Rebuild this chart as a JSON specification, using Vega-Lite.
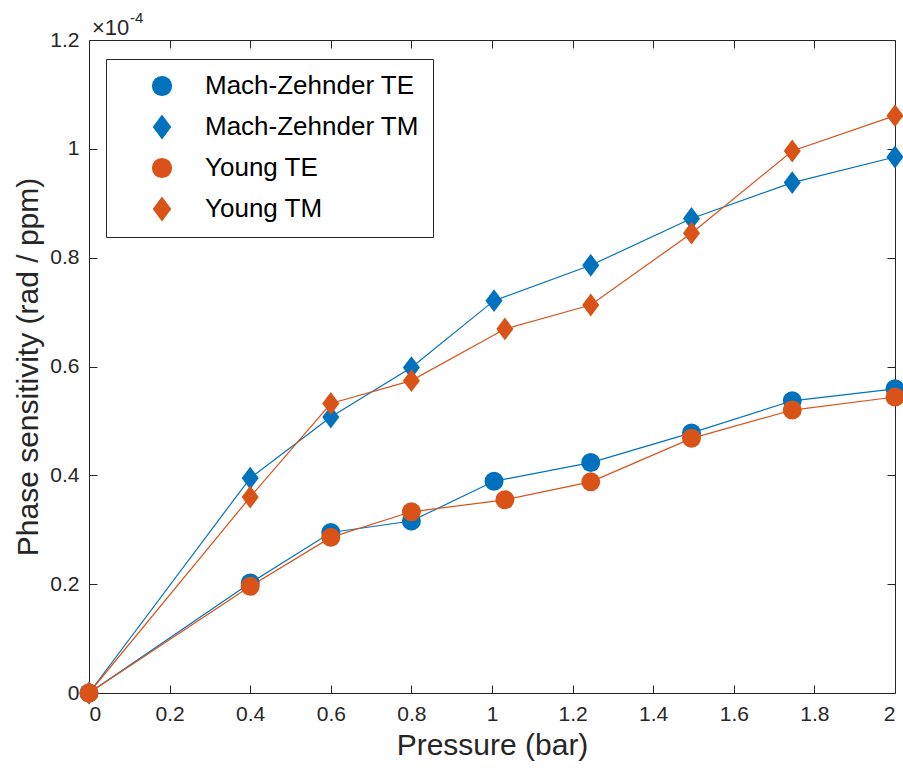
{
  "$schema": "https://vega.github.io/schema/vega-lite/v6.json",
  "width": 806,
  "height": 653,
  "autosize": "none",
  "padding": {"left": 89, "top": 40, "right": 8, "bottom": 77},
  "background": "white",
  "config": {
    "font": "Liberation Sans",
    "view": {"stroke": null},
    "axis": {
      "grid": false,
      "domainColor": "#262626",
      "domainWidth": 1,
      "tickColor": "#262626",
      "tickWidth": 1,
      "tickSize": -8,
      "labelColor": "#262626",
      "labelFont": "Liberation Sans",
      "labelFontSize": 21,
      "titleColor": "#262626",
      "titleFont": "Liberation Sans",
      "titleFontSize": 30,
      "titleFontWeight": "normal"
    },
    "legend": {
      "orient": "none",
      "legendX": 17,
      "legendY": 19,
      "title": null,
      "padding": 14,
      "strokeColor": "#262626",
      "fillColor": "white",
      "labelFont": "Liberation Sans",
      "labelFontSize": 26,
      "labelColor": "#000000",
      "labelOffset": 30,
      "labelLimit": 0,
      "symbolSize": 361,
      "symbolOffset": 29,
      "rowPadding": 14
    }
  },
  "data": {
    "values": [
      {"series": "Mach-Zehnder TE", "pressure": 0, "sensitivity": 0},
      {"series": "Mach-Zehnder TE", "pressure": 0.4, "sensitivity": 0.202},
      {"series": "Mach-Zehnder TE", "pressure": 0.6, "sensitivity": 0.295},
      {"series": "Mach-Zehnder TE", "pressure": 0.8, "sensitivity": 0.316},
      {"series": "Mach-Zehnder TE", "pressure": 1.005, "sensitivity": 0.389},
      {"series": "Mach-Zehnder TE", "pressure": 1.245, "sensitivity": 0.4235},
      {"series": "Mach-Zehnder TE", "pressure": 1.495, "sensitivity": 0.478},
      {"series": "Mach-Zehnder TE", "pressure": 1.745, "sensitivity": 0.537},
      {"series": "Mach-Zehnder TE", "pressure": 2, "sensitivity": 0.559},
      {"series": "Mach-Zehnder TM", "pressure": 0, "sensitivity": 0},
      {"series": "Mach-Zehnder TM", "pressure": 0.4, "sensitivity": 0.395},
      {"series": "Mach-Zehnder TM", "pressure": 0.6, "sensitivity": 0.507},
      {"series": "Mach-Zehnder TM", "pressure": 0.8, "sensitivity": 0.598},
      {"series": "Mach-Zehnder TM", "pressure": 1.005, "sensitivity": 0.721},
      {"series": "Mach-Zehnder TM", "pressure": 1.245, "sensitivity": 0.786},
      {"series": "Mach-Zehnder TM", "pressure": 1.495, "sensitivity": 0.872},
      {"series": "Mach-Zehnder TM", "pressure": 1.745, "sensitivity": 0.938},
      {"series": "Mach-Zehnder TM", "pressure": 2, "sensitivity": 0.985},
      {"series": "Young TE", "pressure": 0, "sensitivity": 0},
      {"series": "Young TE", "pressure": 0.4, "sensitivity": 0.196},
      {"series": "Young TE", "pressure": 0.6, "sensitivity": 0.286},
      {"series": "Young TE", "pressure": 0.8, "sensitivity": 0.333},
      {"series": "Young TE", "pressure": 1.032, "sensitivity": 0.355},
      {"series": "Young TE", "pressure": 1.245, "sensitivity": 0.388},
      {"series": "Young TE", "pressure": 1.495, "sensitivity": 0.468},
      {"series": "Young TE", "pressure": 1.745, "sensitivity": 0.52},
      {"series": "Young TE", "pressure": 2, "sensitivity": 0.544},
      {"series": "Young TM", "pressure": 0, "sensitivity": 0},
      {"series": "Young TM", "pressure": 0.4, "sensitivity": 0.36},
      {"series": "Young TM", "pressure": 0.6, "sensitivity": 0.532},
      {"series": "Young TM", "pressure": 0.8, "sensitivity": 0.574},
      {"series": "Young TM", "pressure": 1.032, "sensitivity": 0.669},
      {"series": "Young TM", "pressure": 1.245, "sensitivity": 0.713},
      {"series": "Young TM", "pressure": 1.495, "sensitivity": 0.845},
      {"series": "Young TM", "pressure": 1.745, "sensitivity": 0.996},
      {"series": "Young TM", "pressure": 2, "sensitivity": 1.061}
    ]
  },
  "resolve": {"axis": {"x": "independent", "y": "independent"}},
  "layer": [
    {
      "mark": {"type": "line", "strokeWidth": 1.2, "clip": false},
      "encoding": {
        "x": {
          "field": "pressure", "type": "quantitative",
          "scale": {"domain": [0, 2], "nice": false, "zero": false},
          "axis": {
            "orient": "bottom",
            "values": [0, 0.2, 0.4, 0.6, 0.8, 1, 1.2, 1.4, 1.6, 1.8, 2],
            "format": "~g",
            "labelPadding": 18,
            "title": "Pressure (bar)",
            "titlePadding": 6
          }
        },
        "y": {
          "field": "sensitivity", "type": "quantitative",
          "scale": {"domain": [0, 1.2], "nice": false, "zero": false},
          "axis": {
            "orient": "left",
            "values": [0, 0.2, 0.4, 0.6, 0.8, 1, 1.2],
            "format": "~g",
            "labelPadding": 18,
            "title": "Phase sensitivity (rad / ppm)",
            "titlePadding": 6
          }
        },
        "color": {
          "field": "series", "type": "nominal",
          "scale": {
            "domain": ["Mach-Zehnder TE", "Mach-Zehnder TM", "Young TE", "Young TM"],
            "range": ["#0072BD", "#0072BD", "#D95319", "#D95319"]
          },
          "legend": {
            "labelExpr": "datum.label + '\u00a0\u00a0\u00a0'",
            "encode": {
              "symbols": {
                "update": {
                  "shape": {"signal": "indexof(datum.value, 'TE') >= 0 ? 'M-4,0H4M1,0A1,1,0,1,1,-1,0A1,1,0,1,1,1,0Z' : 'M-4,0H4M0,-1.2L0.9,0L0,1.2L-0.9,0Z'"},
                  "stroke": {"scale": "color", "field": "value"},
                  "fill": {"scale": "color", "field": "value"},
                  "strokeWidth": {"value": 1.2},
                  "opacity": {"value": 1}
                }
              }
            }
          }
        },
        "detail": {"field": "series"}
      }
    },
    {
      "mark": {"type": "point", "filled": true, "opacity": 1, "size": 361, "clip": false},
      "encoding": {
        "x": {
          "field": "pressure", "type": "quantitative",
          "axis": {
            "orient": "top",
            "values": [0, 0.2, 0.4, 0.6, 0.8, 1, 1.2, 1.4, 1.6, 1.8, 2],
            "labels": false,
            "title": null
          }
        },
        "y": {
          "field": "sensitivity", "type": "quantitative",
          "axis": {
            "orient": "right",
            "values": [0, 0.2, 0.4, 0.6, 0.8, 1, 1.2],
            "labels": false,
            "title": null
          }
        },
        "color": {
          "field": "series", "type": "nominal",
          "legend": {
            "labelExpr": "datum.label + '\u00a0\u00a0\u00a0'",
            "encode": {
              "symbols": {
                "update": {
                  "shape": {"signal": "indexof(datum.value, 'TE') >= 0 ? 'M-4,0H4M1,0A1,1,0,1,1,-1,0A1,1,0,1,1,1,0Z' : 'M-4,0H4M0,-1.2L0.9,0L0,1.2L-0.9,0Z'"},
                  "stroke": {"scale": "color", "field": "value"},
                  "fill": {"scale": "color", "field": "value"},
                  "strokeWidth": {"value": 1.2},
                  "opacity": {"value": 1}
                }
              }
            }
          }
        },
        "shape": {
          "field": "series", "type": "nominal",
          "scale": {
            "domain": ["Mach-Zehnder TE", "Mach-Zehnder TM", "Young TE", "Young TM"],
            "range": ["circle", "M0,-1.2L0.9,0L0,1.2L-0.9,0Z", "circle", "M0,-1.2L0.9,0L0,1.2L-0.9,0Z"]
          },
          "legend": null
        }
      }
    },
    {
      "data": {"values": [{"label": "×10"}]},
      "mark": {"type": "text", "align": "left", "baseline": "alphabetic", "dx": 3, "dy": -5, "fontSize": 22, "font": "Liberation Sans", "color": "#262626"},
      "encoding": {
        "x": {"datum": 0, "type": "quantitative", "axis": null},
        "y": {"datum": 1.2, "type": "quantitative", "axis": null},
        "text": {"field": "label"}
      }
    },
    {
      "data": {"values": [{"label": "-4"}]},
      "mark": {"type": "text", "align": "left", "baseline": "alphabetic", "dx": 41, "dy": -17, "fontSize": 15, "font": "Liberation Sans", "color": "#262626"},
      "encoding": {
        "x": {"datum": 0, "type": "quantitative", "axis": null},
        "y": {"datum": 1.2, "type": "quantitative", "axis": null},
        "text": {"field": "label"}
      }
    }
  ]
}
